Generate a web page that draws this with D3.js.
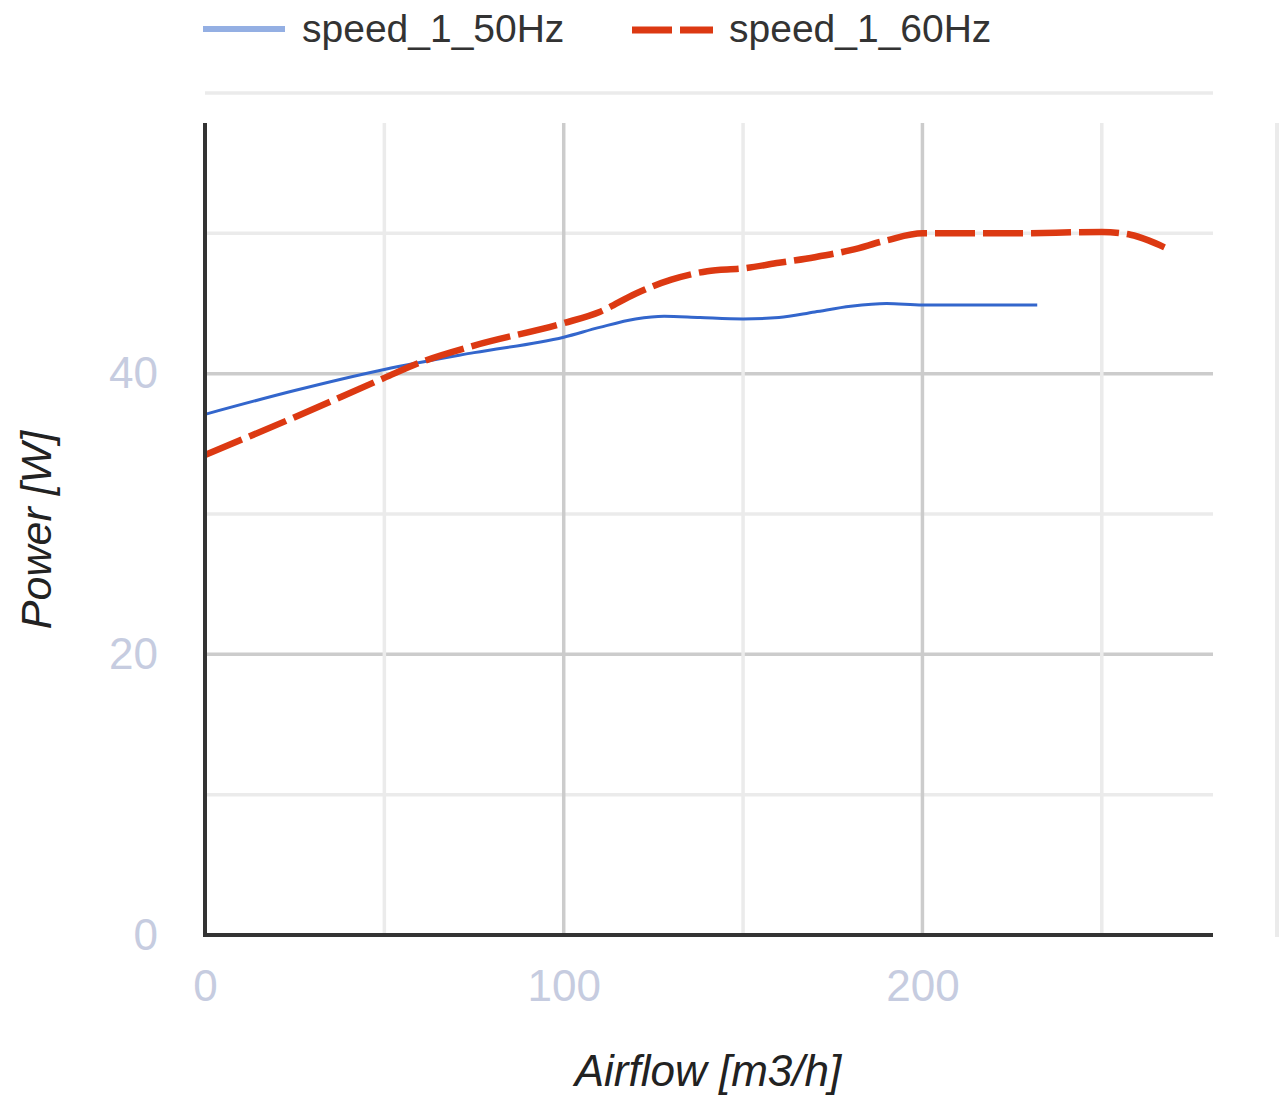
<!DOCTYPE html>
<html>
<head>
<meta charset="utf-8">
<script src="https://cdn.jsdelivr.net/npm/d3@7"></script>
<style>
  html, body { margin: 0; padding: 0; background: #fff; }
  svg { display: block; font-family: "Liberation Sans", Arial, sans-serif; }
</style>
</head>
<body>
<svg width="1279" height="1102"></svg>
<script>
// speed_1_50Hz
var airflow50 = [0, 25, 50, 75, 100, 110, 120, 128, 138, 150, 160, 170, 180, 190, 200, 215, 232];
var power50   = [37.1, 38.8, 40.3, 41.5, 42.6, 43.3, 43.9, 44.1, 44.0, 43.9, 44.0, 44.4, 44.8, 45.0, 44.9, 44.9, 44.9];

// speed_1_60Hz
var airflow60 = [0, 25, 50, 60, 75, 100, 110, 120, 130, 140, 150, 160, 170, 180, 190, 200, 225, 250, 258, 263, 267.5];
var power60   = [34.2, 36.9, 39.7, 40.8, 42.0, 43.6, 44.4, 45.7, 46.7, 47.3, 47.5, 47.9, 48.3, 48.8, 49.5, 50.0, 50.0, 50.1, 49.9, 49.5, 49.0];

var seriesNames = ['speed_1_50Hz', 'speed_1_60Hz'];
var xTickLabels = [0, 100, 200];
var yTickLabels = [0, 20, 40];
var xGrid = [50, 100, 150, 200, 250];
var yGrid = [10, 20, 30, 40, 50, 60];

document.addEventListener('DOMContentLoaded', function () {
    var svg = d3.select('svg');

    var x = d3.scaleLinear().domain([0, 281]).range([205, 1213]);
    var y = d3.scaleLinear().domain([0, 60]).range([935, 93]);
    var plotTop = 123;

    // horizontal gridlines
    svg.append('g').selectAll('line')
        .data(yGrid)
        .enter()
        .append('line')
        .attr('x1', x(0)).attr('x2', x(281))
        .attr('y1', function (d) { return y(d); })
        .attr('y2', function (d) { return y(d); })
        .attr('stroke', function (d) { return d % 20 === 0 && d !== 60 ? '#cccccc' : '#ebebeb'; })
        .attr('stroke-width', 3.5);

    // vertical gridlines
    svg.append('g').selectAll('line')
        .data(xGrid)
        .enter()
        .append('line')
        .attr('y1', plotTop).attr('y2', y(0))
        .attr('x1', function (d) { return x(d); })
        .attr('x2', function (d) { return x(d); })
        .attr('stroke', function (d) { return d % 100 === 0 ? '#cccccc' : '#ebebeb'; })
        .attr('stroke-width', 3.5);

    // stray light line on the right edge
    svg.append('line')
        .attr('x1', 1277).attr('x2', 1277)
        .attr('y1', plotTop).attr('y2', y(0) + 2)
        .attr('stroke', '#ebebeb').attr('stroke-width', 4);

    // series
    var line = d3.line()
        .x(function (d) { return x(d[0]); })
        .y(function (d) { return y(d[1]); })
        .curve(d3.curveMonotoneX);

    var data50 = d3.zip(airflow50, power50);
    var data60 = d3.zip(airflow60, power60);

    svg.append('path')
        .datum(data50)
        .attr('d', line)
        .attr('fill', 'none')
        .attr('stroke', '#3366cc')
        .attr('stroke-width', 3);

    svg.append('path')
        .datum(data60)
        .attr('d', line)
        .attr('fill', 'none')
        .attr('stroke', '#dc3912')
        .attr('stroke-width', 6.5)
        .attr('stroke-dasharray', '40,8');

    // axis lines
    svg.append('line')
        .attr('x1', x(0)).attr('x2', x(0))
        .attr('y1', plotTop).attr('y2', y(0) + 2)
        .attr('stroke', '#333').attr('stroke-width', 4);
    svg.append('line')
        .attr('x1', x(0) - 2).attr('x2', x(281))
        .attr('y1', y(0)).attr('y2', y(0))
        .attr('stroke', '#333').attr('stroke-width', 4);

    // tick labels via axes
    var yAxis = d3.axisLeft(y).tickValues(yTickLabels).tickSize(0).tickPadding(47);
    var gy = svg.append('g').attr('transform', 'translate(' + x(0) + ',0)').call(yAxis);
    var xAxis = d3.axisBottom(x).tickValues(xTickLabels).tickSize(0).tickPadding(35);
    var gx = svg.append('g').attr('transform', 'translate(0,' + y(0) + ')').call(xAxis);
    [gy, gx].forEach(function (g) {
        g.select('.domain').remove();
        g.selectAll('text')
            .attr('fill', '#c6cce0')
            .style('font-size', '44px')
            .style('font-family', '"Liberation Sans", Arial, sans-serif');
    });

    // axis titles
    svg.append('text')
        .attr('x', 708).attr('y', 1086)
        .attr('text-anchor', 'middle')
        .attr('fill', '#222')
        .style('font-size', '44px')
        .style('font-style', 'italic')
        .text('Airflow [m3/h]');

    svg.append('text')
        .attr('transform', 'translate(51,530) rotate(-90)')
        .attr('text-anchor', 'middle')
        .attr('fill', '#222')
        .style('font-size', '43px')
        .style('font-style', 'italic')
        .text('Power [W]');

    // legend
    var legend = svg.append('g');
    legend.append('line')
        .attr('x1', 203).attr('x2', 285).attr('y1', 29).attr('y2', 29)
        .attr('stroke', '#94afe3').attr('stroke-width', 6);
    legend.append('line')
        .attr('x1', 632).attr('x2', 713).attr('y1', 30).attr('y2', 30)
        .attr('stroke', '#dc3912').attr('stroke-width', 7)
        .attr('stroke-dasharray', '40,8');
    legend.selectAll('text')
        .data(seriesNames)
        .enter()
        .append('text')
        .attr('x', function (d, i) { return i === 0 ? 302 : 729; })
        .attr('y', 42)
        .attr('fill', '#333')
        .style('font-size', '39px')
        .text(function (d) { return d; });
});
</script>
</body>
</html>
